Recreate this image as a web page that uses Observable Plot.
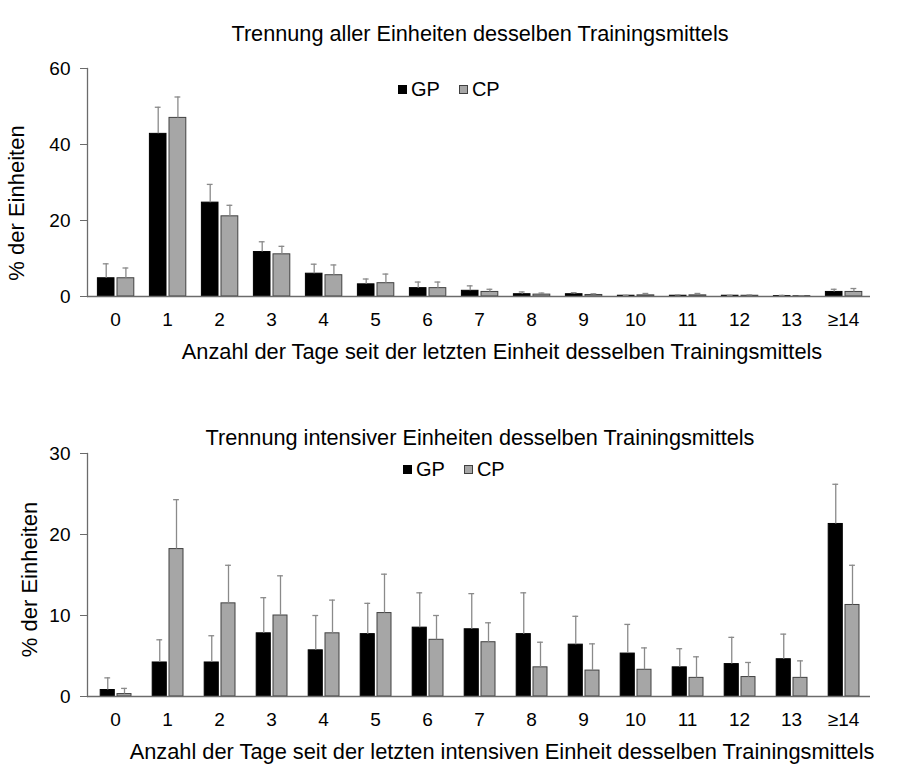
<!DOCTYPE html>
<html>
<head>
<meta charset="utf-8">
<script src="https://cdn.jsdelivr.net/npm/d3@7"></script>
<script src="https://cdn.jsdelivr.net/npm/@observablehq/plot@0.6"></script>
<style>
  html, body { margin: 0; padding: 0; background: #fff; }
  #wrap { position: relative; width: 907px; height: 775px; font-family: "Liberation Sans", Arial, sans-serif; color: #000; }
  .chart { position: absolute; left: 0; z-index: 1; }
  .title { position: absolute; left: 0; width: 960px; text-align: center; font-size: 21.7px; line-height: 1; white-space: nowrap; z-index: 2; }
  .legend { position: absolute; font-size: 20px; line-height: 1; white-space: nowrap; display: flex; align-items: center; z-index: 2; }
  .sw { display: inline-block; width: 9px; height: 9px; margin-right: 4px; box-sizing: border-box; }
  .item { display: inline-flex; align-items: center; margin-right: 19px; }
</style>
</head>
<body>
<div id="wrap">
  <div class="title" style="top:23px;">Trennung aller Einheiten desselben Trainingsmittels</div>
  <div class="legend" style="left:398px; top:79px;">
    <span class="item"><span class="sw" style="background:#000;border:1px solid #000"></span>GP</span>
    <span class="item"><span class="sw" style="background:#a6a6a6;border:1px solid #404040"></span>CP</span>
  </div>
  <div class="title" style="top:427px;">Trennung intensiver Einheiten desselben Trainingsmittels</div>
  <div class="legend" style="left:403px; top:459px;">
    <span class="item"><span class="sw" style="background:#000;border:1px solid #000"></span>GP</span>
    <span class="item"><span class="sw" style="background:#a6a6a6;border:1px solid #404040"></span>CP</span>
  </div>
</div>
<script>
// ---- data ----
const categories = ["0","1","2","3","4","5","6","7","8","9","10","11","12","13","≥14"];

// Chart 1: all units
const gpAll   = [4.8, 42.8, 24.7, 11.7, 6.0, 3.2, 2.2, 1.5, 0.6, 0.6, 0.2, 0.2, 0.2, 0.1, 1.2];
const gpAllSd = [3.8, 7.0, 4.8, 2.7, 2.5, 1.4, 1.6, 1.3, 0.6, 0.4, 0.1, 0.2, 0.1, 0.2, 0.7];
const cpAll   = [4.8, 47.0, 21.1, 11.1, 5.6, 3.5, 2.2, 1.2, 0.5, 0.4, 0.3, 0.3, 0.2, 0.1, 1.2];
const cpAllSd = [2.7, 5.5, 2.9, 2.1, 2.7, 2.4, 1.6, 0.7, 0.4, 0.3, 0.5, 0.5, 0.2, 0.1, 0.9];
const yTicksAll = [0, 20, 40, 60];

// Chart 2: intensive units
const gpInt   = [0.8, 4.2, 4.2, 7.8, 5.7, 7.7, 8.5, 8.3, 7.7, 6.4, 5.3, 3.6, 4.0, 4.6, 21.3];
const gpIntSd = [1.5, 2.8, 3.3, 4.4, 4.3, 3.8, 4.3, 4.4, 5.1, 3.5, 3.6, 2.3, 3.3, 3.1, 4.9];
const cpInt   = [0.3, 18.2, 11.5, 10.0, 7.8, 10.3, 7.0, 6.7, 3.6, 3.2, 3.3, 2.3, 2.4, 2.3, 11.3];
const cpIntSd = [0.7, 6.1, 4.7, 4.9, 4.1, 4.8, 3.0, 2.4, 3.1, 3.3, 2.7, 2.6, 1.8, 2.1, 4.9];
const yTicksInt = [0, 10, 20, 30];

const yLabel = "% der Einheiten";
const xLabelAll = "Anzahl der Tage seit der letzten Einheit desselben Trainingsmittels";
const xLabelInt = "Anzahl der Tage seit der letzten intensiven Einheit desselben Trainingsmittels";

function rows(vals, sds) {
  return categories.map((c, i) => ({cat: c, value: vals[i], top: vals[i] + sds[i]}));
}

function chart(cfg) {
  const gp = rows(cfg.gp, cfg.gpSd);
  const cp = rows(cfg.cp, cfg.cpSd);
  const g = cfg.geo; // band-relative geometry
  const step = 783 / 15;
  const errStyle = {stroke: "#8a8a8a", strokeWidth: 1.3};
  const cap = 3;
  return Plot.plot({
    width: 907,
    height: cfg.height,
    marginLeft: 87,
    marginRight: 37,
    marginTop: cfg.marginTop,
    marginBottom: cfg.marginBottom,
    style: {fontFamily: "'Liberation Sans', Arial, sans-serif", fontSize: "19px", color: "#000", background: "transparent"},
    x: {type: "band", domain: categories, padding: 0, label: null},
    y: {domain: cfg.yDomain, label: null},
    marks: [
      Plot.axisY({ticks: cfg.yTicks, tickSize: 7, tickPadding: 10, fontSize: 19, stroke: "#6b6b6b", label: null}),
      Plot.axisX({tickSize: 0, tickPadding: 15.5, fontSize: 19, label: null}),
      // bars
      Plot.barY(gp, {x: "cat", y: "value", fill: "#000", stroke: "#000", strokeWidth: 1, insetLeft: g.gpL, insetRight: step - g.gpR}),
      Plot.barY(cp, {x: "cat", y: "value", fill: "#a6a6a6", stroke: "#404040", strokeWidth: 1, insetLeft: g.cpL, insetRight: step - g.cpR}),
      // error bars (upper)
      Plot.ruleX(gp, {x: "cat", y1: "value", y2: "top", dx: (g.gpL + g.gpR) / 2 - step / 2, ...errStyle}),
      Plot.ruleX(cp, {x: "cat", y1: "value", y2: "top", dx: (g.cpL + g.cpR) / 2 - step / 2, ...errStyle}),
      Plot.tickY(gp, {x: "cat", y: "top", insetLeft: (g.gpL + g.gpR) / 2 - cap, insetRight: step - (g.gpL + g.gpR) / 2 - cap, ...errStyle}),
      Plot.tickY(cp, {x: "cat", y: "top", insetLeft: (g.cpL + g.cpR) / 2 - cap, insetRight: step - (g.cpL + g.cpR) / 2 - cap, ...errStyle}),
      // axis lines
      Plot.frame({anchor: "left", stroke: "#6b6b6b", strokeWidth: 1.3}),
      Plot.ruleY([0], {stroke: "#6b6b6b", strokeWidth: 1.3}),
      // axis labels
      Plot.text([yLabel], {text: d => d, frameAnchor: "left", textAnchor: "middle", lineAnchor: "middle", rotate: -90, dx: cfg.yLabelDx, dy: cfg.yLabelDy, fontSize: 22, fill: "#000"}),
      Plot.text([cfg.xLabel], {text: d => d, frameAnchor: "bottom", textAnchor: "middle", lineAnchor: "bottom", dx: 23, dy: 62, fontSize: 21.8, fill: "#000"})
    ]
  });
}

const wrap = document.getElementById("wrap");

const c1 = chart({
  gp: gpAll, gpSd: gpAllSd, cp: cpAll, cpSd: cpAllSd,
  yDomain: [0, 60], yTicks: yTicksAll, xLabel: xLabelAll,
  height: 400, marginTop: 68, marginBottom: 104,
  geo: {gpL: 8.4, gpR: 25.2, cpL: 28, cpR: 45},
  yLabelDx: -70.5, yLabelDy: 20.5
});
c1.classList.add("chart");
c1.style.top = "0px";
c1.style.position = "absolute";
wrap.appendChild(c1);

const c2 = chart({
  gp: gpInt, gpSd: gpIntSd, cp: cpInt, cpSd: cpIntSd,
  yDomain: [0, 30], yTicks: yTicksInt, xLabel: xLabelInt,
  height: 375, marginTop: 53, marginBottom: 79,
  geo: {gpL: 11.2, gpR: 25.5, cpL: 28, cpR: 42.2},
  yLabelDx: -57.3, yLabelDy: 4.5
});
c2.classList.add("chart");
c2.style.top = "400px";
c2.style.position = "absolute";
wrap.appendChild(c2);
</script>
</body>
</html>
